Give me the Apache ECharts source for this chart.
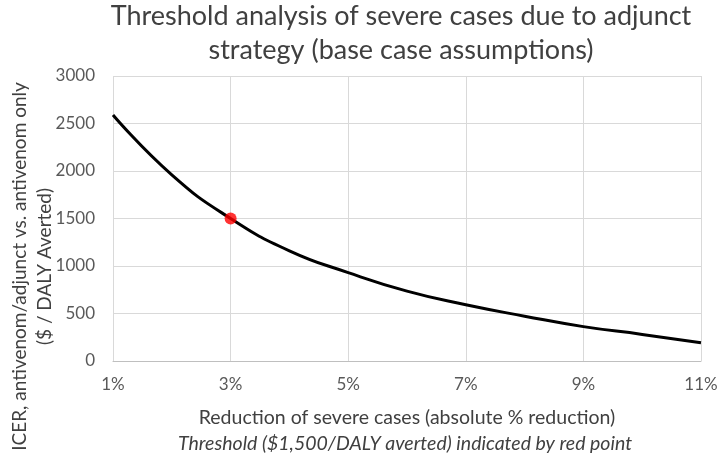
<!DOCTYPE html>
<html>
<head>
<meta charset="utf-8">
<script src="https://cdn.jsdelivr.net/npm/echarts@6/dist/echarts.min.js"></script>
<style>html,body{margin:0;padding:0;background:#fff;}#c{width:717px;height:462px;}</style>
</head>
<body>
<div id="c"></div>
<script>
var categories = ['1%','2%','3%','4%','5%','6%','7%','8%','9%','10%','11%'];
var icerValues = [2590, 1960, 1500, 1160, 930, 735, 592, 472, 362, 280, 192];
var thresholdCategory = '3%';
var thresholdValue = 1500;
var yTicks = {min: 0, max: 3000, interval: 500};

var FONT = 'Lato';
var chart = echarts.init(document.getElementById('c'), null, {renderer: 'canvas'});
chart.setOption({
  animation: false,
  backgroundColor: '#ffffff',
  textStyle: {fontFamily: FONT},
  title: [{
    text: 'Threshold analysis of severe cases due to adjunct\nstrategy (base case assumptions)',
    left: 401,
    top: -1,
    padding: 0,
    textAlign: 'center',
    textStyle: {fontFamily: FONT, fontSize: 27, fontWeight: 'normal', color: '#404040', lineHeight: 34}
  }, {
    text: 'Threshold ($1,500/DALY averted) indicated by red point',
    left: 405,
    top: 434,
    padding: 0,
    textAlign: 'center',
    textStyle: {fontFamily: FONT, fontSize: 19.5, fontWeight: 'normal', fontStyle: 'italic', color: '#404040'}
  }],
  grid: {left: 113, right: 16, top: 76, bottom: 101, outerBoundsMode: 'none', containLabel: false},
  xAxis: {
    type: 'category',
    data: categories,
    boundaryGap: false,
    name: 'Reduction of severe cases (absolute % reduction)',
    nameLocation: 'middle',
    nameGap: 47,
    nameMoveOverlap: false,
    nameTextStyle: {fontFamily: FONT, fontSize: 19.5, color: '#404040'},
    axisLine: {show: true, lineStyle: {color: '#bfbfbf', width: 1}},
    axisTick: {show: false},
    axisLabel: {interval: 1, margin: 15, fontFamily: FONT, fontSize: 17, color: '#595959'},
    splitLine: {show: true, interval: 1, lineStyle: {color: '#d9d9d9', width: 1}}
  },
  yAxis: {
    type: 'value',
    min: yTicks.min,
    max: yTicks.max,
    interval: yTicks.interval,
    name: 'ICER, antivenom/adjunct vs. antivenom only\n($ / DALY Averted)',
    nameLocation: 'middle',
    nameGap: 56,
    nameMoveOverlap: false,
    nameTextStyle: {fontFamily: FONT, fontSize: 19, color: '#404040', lineHeight: 25, padding: [0, 96, 0, 0]},
    axisLine: {show: false},
    axisTick: {show: false},
    axisLabel: {margin: 18, fontFamily: FONT, fontSize: 17, color: '#595959', formatter: function (v) { return String(v); }},
    splitLine: {show: true, lineStyle: {color: '#d9d9d9', width: 1}}
  },
  series: [{
    type: 'line',
    data: icerValues,
    smooth: 0.5,
    symbol: 'none',
    lineStyle: {color: '#000000', width: 3},
    z: 2
  }, {
    type: 'scatter',
    data: [[thresholdCategory, thresholdValue]],
    symbol: 'circle',
    symbolSize: 12,
    itemStyle: {color: '#ff0000'},
    z: 3
  }]
});
</script>
</body>
</html>
